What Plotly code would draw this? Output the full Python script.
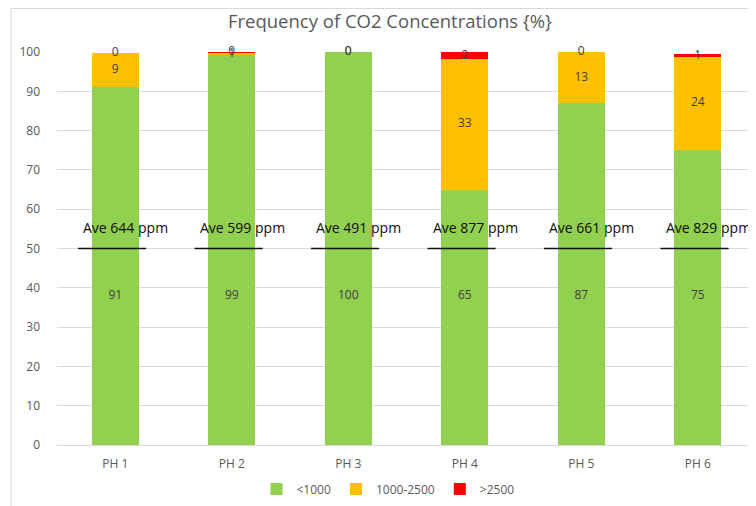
import plotly.graph_objects as go

categories = ["PH 1", "PH 2", "PH 3", "PH 4", "PH 5", "PH 6"]
low = [91, 99.3, 100, 65, 87, 75]        # <1000
mid = [8.7, 0.6, 0, 33.2, 13, 23.8]      # 1000-2500
high = [0, 0.1, 0, 1.8, 0, 0.6]          # >2500
ave_ppm = [644, 599, 491, 877, 661, 829]
ave_level = [50, 50, 50, 50, 50, 50]
green_label_level = 38

GREEN = "#92D050"
ORANGE = "#FFC000"
RED = "#FF0000"
FONT = "Open Sans"

W, H = 748, 498
L, T, B = 49, 44, 61
PW, PH = W - L, H - T - B

fig = go.Figure()
fig.add_bar(x=categories, y=low, name="<1000", marker=dict(color=GREEN, line=dict(width=0)), width=0.4)
fig.add_bar(x=categories, y=mid, name="1000-2500", marker=dict(color=ORANGE, line=dict(width=0)), width=0.4)
fig.add_bar(x=categories, y=high, name=">2500", marker=dict(color=RED, line=dict(width=0)), width=0.4)

# data labels
mid_pos = [l + m / 2 for l, m in zip(low, mid)]
high_pos = [l + m + h / 2 for l, m, h in zip(low, mid, high)]
lab_font = dict(family=FONT, size=12, color="#404040")
for ys, vals in ((([green_label_level] * len(categories)), low), (mid_pos, mid), (high_pos, high)):
    fig.add_scatter(x=categories, y=ys, mode="text", text=[f"{round(v)}" for v in vals],
                    textfont=lab_font, showlegend=False, hoverinfo="skip", cliponaxis=False)

# average markers
for i, (ppm, lvl) in enumerate(zip(ave_ppm, ave_level)):
    fig.add_shape(type="line", xref="x", yref="y", x0=i - 0.32, x1=i + 0.265, y0=lvl, y1=lvl,
                  line=dict(color="#111111", width=1.5))
    fig.add_annotation(x=i + 0.09, y=lvl + 5.3, xref="x", yref="y", text=f"Ave {ppm} ppm",
                       showarrow=False, font=dict(family=FONT, size=14, color="#0d0d0d"))

# chart border
fig.add_shape(type="rect", xref="paper", yref="paper",
              x0=(3 - L) / PW, x1=1.2, y0=-0.4, y1=1 + (T - 0.5) / PH,
              line=dict(color="#D9D9D9", width=1), fillcolor="rgba(0,0,0,0)", layer="below")

fig.update_layout(
    barmode="stack",
    width=W, height=H,
    margin=dict(l=L, r=0, t=T, b=B),
    paper_bgcolor="white", plot_bgcolor="white",
    title=dict(text="Frequency of CO2 Concentrations {%}", x=382 / W, xref="container", xanchor="center",
               y=1 - 14 / H, yref="container", yanchor="middle",
               font=dict(family=FONT, size=18.5, color="#595959")),
    legend=dict(orientation="h", x=380 / W, xref="container", xanchor="center",
                y=1 - 481 / H, yref="container", yanchor="middle",
                font=dict(family=FONT, size=12, color="#595959"), itemwidth=30,
                traceorder="normal"),
    font=dict(family=FONT, size=12, color="#595959"),
)
fig.update_xaxes(showgrid=False, showline=True, linecolor="#D9D9D9", linewidth=1, ticks="",
                 tickfont=dict(family=FONT, size=12, color="#595959"), ticklabelstandoff=8)
fig.update_yaxes(range=[0, 100], dtick=10, showgrid=True, gridcolor="#D9D9D9", gridwidth=1,
                 zeroline=False, showline=False, ticks="",
                 tickfont=dict(family=FONT, size=12, color="#595959"), ticklabelstandoff=16)

fig.write_html("out.html")
